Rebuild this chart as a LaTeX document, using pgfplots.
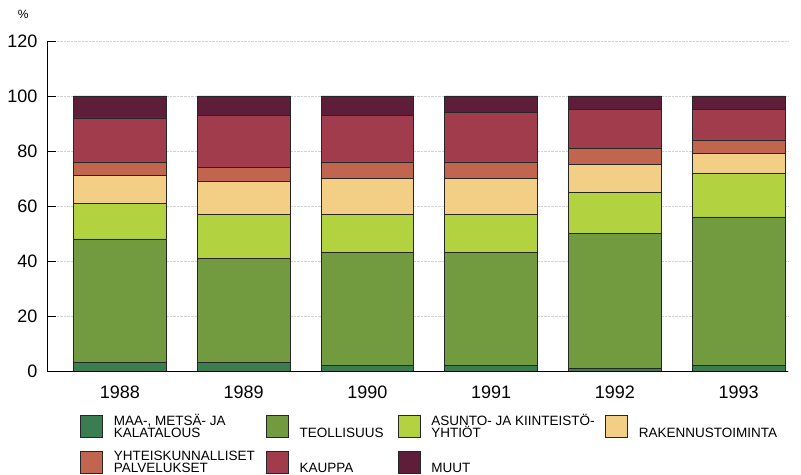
\documentclass[border=0pt]{standalone}
\usepackage{pgfplots}
\usepackage{pgfplotstable}
\pgfplotsset{compat=1.18}
\usepackage{fontspec}
\setmainfont{Liberation Sans}

\definecolor{cAgri}{HTML}{3A7D50}
\definecolor{cTeol}{HTML}{729B40}
\definecolor{cAsun}{HTML}{B2D33F}
\definecolor{cRak}{HTML}{F3CF85}
\definecolor{cYht}{HTML}{C2654F}
\definecolor{cKau}{HTML}{A03C4C}
\definecolor{cMuu}{HTML}{5E1E3A}

\pgfplotstableread{
x agri teol asun rak yht kau muu
0 3 45 13 10 5 16 8
1 3 38 16 12 5 19 7
2 2 41 14 13 6 17 7
3 2 41 14 13 6 18 6
4 1 49 15 10 6 14 5
5 2 54 16 7 5 11 5
}\data

% fixed-size legend text box
\newcommand{\lgtxt}[2]{\raisebox{-6bp}[11bp][11bp]{\parbox[b]{#1}{\fontsize{13.5bp}{12bp}\selectfont\raggedright #2}}}

\begin{document}
\begin{tikzpicture}
\begin{axis}[
  set layers,
  scale only axis,
  width=741bp, height=330bp,
  xmin=-0.59, xmax=5.40,
  ymin=0, ymax=120,
  ybar stacked,
  bar width=0.75,
  axis x line*=bottom,
  axis y line*=left,
  axis line style={black, line width=0.8bp},
  xtick={0,1,2,3,4,5},
  xticklabels={1988,1989,1990,1991,1992,1993},
  ytick={0,20,40,60,80,100,120},
  tick align=inside,
  major tick length=9bp,
  tick style={black, line width=0.8bp, /pgfplots/on layer=axis foreground},
  ymajorgrids,
  major grid style={densely dotted, black!18, line width=0.6bp},
  /pgf/number format/assume math mode=true,
  ticklabel style={font=\fontsize{18bp}{20bp}\selectfont},
  yticklabel style={xshift=-6bp},
  xticklabel style={yshift=-11bp},
  ylabel={\%},
  every axis y label/.style={at={(axis description cs:-0.032,1.082)}, anchor=center, font=\fontsize{12bp}{14bp}\selectfont},
  legend columns=4,
  legend cell align=left,
  legend style={at={(axis description cs:0.0445,-0.133)}, anchor=north west, draw=none, fill=none, inner sep=0pt,
    nodes={inner sep=0pt},
    row sep=13bp,
    /tikz/every odd column/.append style={column sep=11bp},
    /tikz/every even column/.append style={column sep=14bp}},
  legend image code/.code={\draw[#1,draw=black!85,line width=0.7bp] (0bp,-11bp) rectangle (22bp,11bp);},
  every axis plot/.append style={draw=black!85, line width=0.7bp},
]
\addplot[fill=cAgri] table[x=x,y=agri]{\data};
\addlegendentry{\lgtxt{138bp}{MAA-, METSÄ- JA\\KALATALOUS}}
\addplot[fill=cTeol] table[x=x,y=teol]{\data};
\addlegendentry{\lgtxt{84bp}{TEOLLISUUS}}
\addplot[fill=cAsun] table[x=x,y=asun]{\data};
\addlegendentry{\lgtxt{160bp}{\mbox{ASUNTO- JA KIINTEISTÖ-}\\YHTIÖT}}
\addplot[fill=cRak] table[x=x,y=rak]{\data};
\addlegendentry{\lgtxt{130bp}{RAKENNUSTOIMINTA}}
\addplot[fill=cYht] table[x=x,y=yht]{\data};
\addlegendentry{\lgtxt{138bp}{YHTEISKUNNALLISET\\PALVELUKSET}}
\addplot[fill=cKau] table[x=x,y=kau]{\data};
\addlegendentry{\lgtxt{84bp}{KAUPPA}}
\addplot[fill=cMuu] table[x=x,y=muu]{\data};
\addlegendentry{\lgtxt{160bp}{MUUT}}
\end{axis}
\path (-47bp,-104bp) rectangle (754bp,371bp);
\end{tikzpicture}
\end{document}
